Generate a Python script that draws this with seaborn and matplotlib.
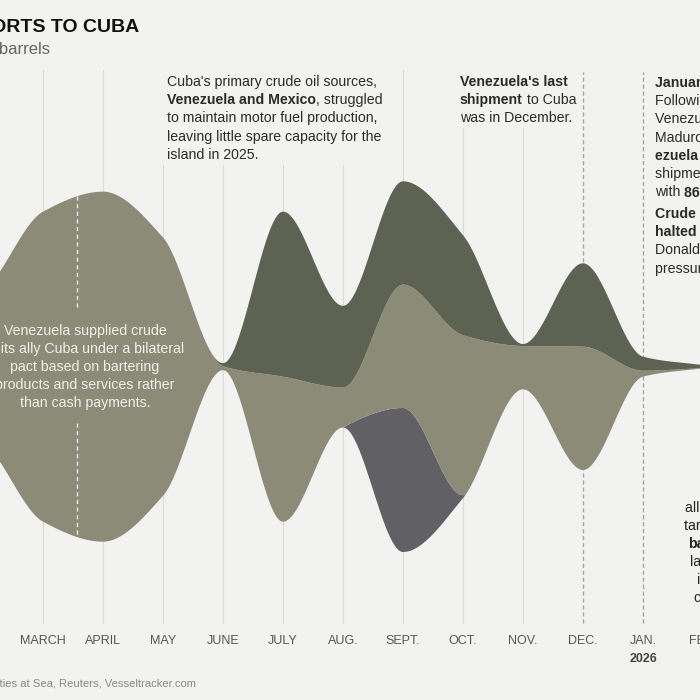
import numpy as np
import matplotlib
matplotlib.use('Agg')
import matplotlib.pyplot as plt
import seaborn as sns

# monthly crude shipments to Cuba, thousand barrels (Jan 2025 .. Feb 2026)
month_labels = ['JAN.', 'FEB.', 'MARCH', 'APRIL', 'MAY', 'JUNE', 'JULY', 'AUG.',
                'SEPT.', 'OCT.', 'NOV.', 'DEC.', 'JAN.', 'FEB.']
venezuela = [270, 450, 930, 1050, 775, 12, 435, 120, 370, 480, 130, 370, 18, 0]
mexico = [0, 0, 0, 0, 0, 9, 495, 245, 310, 300, 6, 250, 42, 9]
russia = [0, 0, 0, 0, 0, 0, 0, 0, 432, 9, 0, 0, 0, 0]
event_month = 2.57   # white dashed marker between March and April

sns.set_theme(style='white')
plt.rcParams['font.family'] = ['Liberation Sans', 'DejaVu Sans']

BG = '#f2f2f0'
C_VEN = '#8b8b78'
C_MEX = '#5e6252'
C_RUS = '#616165'


def pchip(x, y, xs):
    # monotone cubic (like d3 curveMonotoneX)
    x = np.asarray(x, float)
    y = np.asarray(y, float)
    h = np.diff(x)
    delta = np.diff(y) / h
    d = np.zeros_like(y)
    for k in range(1, len(y) - 1):
        if delta[k - 1] * delta[k] > 0:
            w1 = 2 * h[k] + h[k - 1]
            w2 = h[k] + 2 * h[k - 1]
            d[k] = (w1 + w2) / (w1 / delta[k - 1] + w2 / delta[k])
    d[0] = delta[0]
    d[-1] = delta[-1]
    idx = np.clip(np.searchsorted(x, xs) - 1, 0, len(x) - 2)
    t = (xs - x[idx]) / h[idx]
    h00 = 2 * t**3 - 3 * t**2 + 1
    h10 = t**3 - 2 * t**2 + t
    h01 = -2 * t**3 + 3 * t**2
    h11 = t**3 - t**2
    return h00 * y[idx] + h10 * h[idx] * d[idx] + h01 * y[idx + 1] + h11 * h[idx] * d[idx + 1]


fig = plt.figure(figsize=(7, 7), dpi=100)
fig.patch.set_facecolor(BG)
ax = fig.add_axes([0, 0, 1, 1])
ax.set_facecolor(BG)
ax.set_xlim(1.2833, 12.95)
ax.set_ylim(-1000, 1100)
ax.axis('off')


def ypx(p):
    # pixel row from top -> data value
    return 1100 - p * 3


# silhouette stacking: boundaries at each month, then smoothed
months = np.arange(len(month_labels))
r = np.array(russia, float)
v = np.array(venezuela, float)
m = np.array(mexico, float)
total = r + v + m
xs = np.linspace(0, months[-1], 2601)
bottom = pchip(months, -total / 2, xs)
top = pchip(months, total / 2, xs)
b1 = np.clip(pchip(months, -total / 2 + r, xs), bottom, top)
b2 = np.clip(pchip(months, total / 2 - m, xs), b1, top)

# grid
grid_top = {4: 165, 5: 165, 6: 165, 7: 165, 9: 128, 10: 128}
for i in range(2, 11):
    ax.plot([i, i], [ypx(623), ypx(grid_top.get(i, 70))], color='#dadad6', lw=0.8, zorder=1)
for i in (11, 12):
    ax.plot([i, i], [ypx(623), ypx(72)], color='#a5a5a5', lw=1.0, ls=(0, (3, 2)), zorder=1)

# stream layers
ax.fill_between(xs, bottom, b1, color=C_RUS, lw=0, zorder=2)
ax.fill_between(xs, b1, b2, color=C_VEN, lw=0, zorder=2)
ax.fill_between(xs, b2, top, color=C_MEX, lw=0, zorder=2)

# white dashed marker inside the Venezuela shape
k = np.argmin(np.abs(xs - event_month))
ax.plot([event_month] * 2, [top[k], ypx(310)], color='#eeeeea',
        lw=1.0, ls=(0, (3, 2.5)), zorder=3)
ax.plot([event_month] * 2, [ypx(423), bottom[k]], color='#eeeeea',
        lw=1.0, ls=(0, (3, 2.5)), zorder=3)

# month labels
for i in range(2, len(month_labels)):
    ax.text(i, ypx(641), month_labels[i], ha='center', va='center', fontsize=9, color='#555555')
ax.text(12, ypx(659), '2026', ha='center', va='center', fontsize=9, color='#444444', fontweight='bold')

renderer = fig.canvas.get_renderer()


def rich(x, y, parts, size=10.2, color='#2b2b2b'):
    # one line of mixed regular / bold text, positions in pixels from top-left
    for txt, bold in parts:
        t = fig.text(x / 700, 1 - y / 700, txt, fontsize=size, color=color,
                     fontweight='bold' if bold else 'normal', va='baseline', ha='left')
        x += t.get_window_extent(renderer=renderer).width


def block(x, y0, lines, step=18.2, **kw):
    for n, parts in enumerate(lines):
        if isinstance(parts, str):
            parts = [(parts, False)]
        rich(x, y0 + n * step, parts, **kw)


block(167, 86, [
    "Cuba's primary crude oil sources,",
    [('Venezuela and Mexico', True), (', struggled', False)],
    'to maintain motor fuel production,',
    'leaving little spare capacity for the',
    'island in 2025.',
])

block(460, 86, [
    [("Venezuela's last", True)],
    [('shipment', True), (' to Cuba', False)],
    'was in December.',
])

block(655, 87, [
    [('January 3', True)],
    'Following the U.S. capture of',
    'Venezuelan President Nicolás',
    [('Maduro, shipments from ', False), ('Ven-', True)],
    [('ezuela stopped', True), (', with the last', False)],
    'shipment arriving in Cuba',
    [('with ', False), ('86,000 barrels', True), ('.', False)],
])
block(655, 218, [
    [('Crude from Mexico', True)],
    [('halted', True), (' after President', False)],
    'Donald Trump increased',
    'pressure on Mexico.',
])

for (x, y, txt, b) in [(685, 512, 'all of its', False), (684, 530, 'tariffs on', False),
                       (688, 548, 'barrels', True), (690, 566, 'last year', False),
                       (697, 584, 'in', False), (693, 602, 'crude', False)]:
    rich(x, y, [(txt, b)], color='#222222')

inside = ['Venezuela supplied crude', 'to its ally Cuba under a bilateral',
          'pact based on bartering', 'products and services rather',
          'than cash payments.']
for n, line in enumerate(inside):
    fig.text(85 / 700, 1 - (331 + n * 18) / 700, line, ha='center', va='center',
             fontsize=10.2, color='#f1f1ec')

# title, subtitle, source (cropped at the left edge like the original)
fig.text(139 / 700, 1 - 27 / 700, 'CRUDE OIL IMPORTS TO CUBA', ha='right', va='center',
         fontsize=14, fontweight='bold', color='#111111')
fig.text(50 / 700, 1 - 50 / 700, 'In thousands of barrels', ha='right', va='center',
         fontsize=12, color='#666666')
fig.text(196 / 700, 1 - 683 / 700, 'Sources: Commodities at Sea, Reuters, Vesseltracker.com',
         ha='right', va='center', fontsize=8.1, color='#888888')

fig.savefig('out.png', dpi=100, facecolor=BG)
